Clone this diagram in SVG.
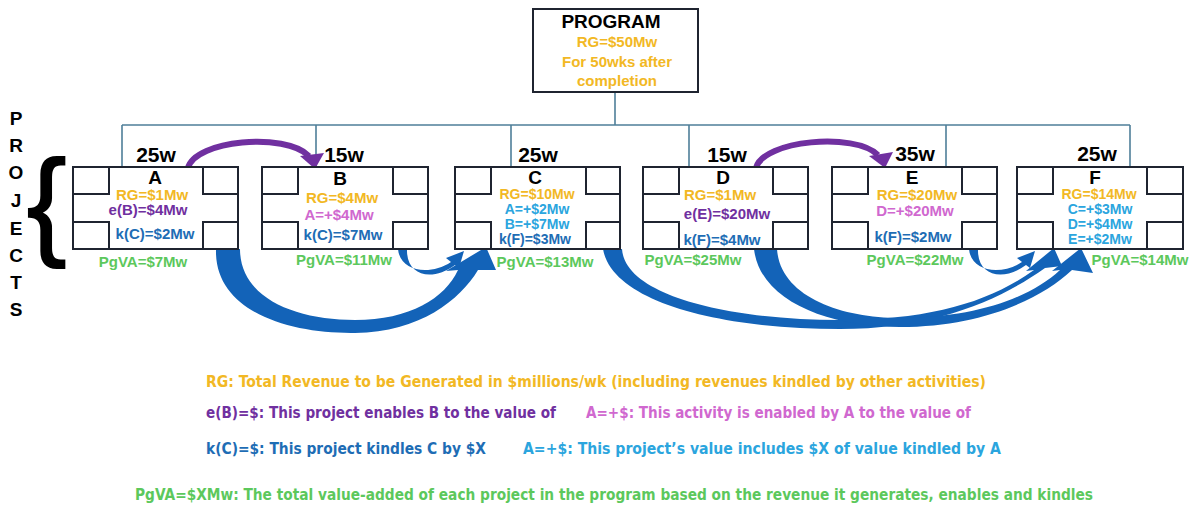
<svg xmlns="http://www.w3.org/2000/svg" width="1199" height="508" viewBox="0 0 1199 508">
<defs>
<style>
.bg{fill:#fff}
.box{fill:#fff;stroke:#1f2430;stroke-width:2}
.sq{fill:#fff;stroke:#1f2430;stroke-width:2}
.t{font-family:"Liberation Sans",Arial,sans-serif;font-weight:bold;text-anchor:middle;font-size:15px}
.s{font-size:14px}
.h{font-size:19px;fill:#000}
.wk{font-size:21px;fill:#000}
.rg{fill:#F2B824}
.en{fill:#7030A0}
.kd{fill:#1E6DB5}
.pv{fill:#5CC85C}
.ed{fill:#D068CF}
.kb{fill:#2BA5DE}
.bus{fill:none;stroke:#4F7F99;stroke-width:1.6}
.blue{fill:#1363B8}
.purp{fill:none;stroke:#7030A0;stroke-width:6}
.purh{fill:#7030A0}
.lg{font-family:"DejaVu Sans Condensed","Liberation Sans",sans-serif;font-weight:bold;font-size:15px}
.side{font-family:"Liberation Sans",Arial,sans-serif;font-weight:bold;font-size:19px;text-anchor:middle;fill:#000}
</style>
</defs>
<rect class="bg" x="0" y="0" width="1199" height="508"/>

<g id="connectors">
<path class="bus" d="M615,92 V125 M122,125 H1130 M122,125 V167 M316,125 V167 M511,125 V167 M689,125 V167 M946,125 V167 M1130,125 V167"/>
<path class="purp" d="M188,168 C195,140 285,132 309,156"/>
<polygon class="purh" points="300,156 324,153 315,169"/>
<path class="purp" d="M756,168 C763,140 855,132 878,155"/>
<polygon class="purh" points="869,156 893,152 885,168"/>
<path class="blue" d="M216,249 C214,312 290,334 355,333 C420,332 460,300 478,270 L496,270 L486,247 L446,271 L458,270 C445,298 410,320 355,320 C295,320 240,298 240,249 Z"/>
<path class="blue" d="M398,249 C400,272 430,276 451,262 L446,258 L464,251 L459,268 L455,265 C432,282 406,276 407,249 Z"/>
<path class="blue" d="M969,249 C971,272 1001,276 1022,262 L1017,258 L1035,251 L1030,268 L1026,265 C1003,282 977,276 978,249 Z"/>
<path class="blue" d="M603,249 C612,302 720,329 840,329 C935,329 1000,300 1045,268 L1062,266 L1054,248 L1026,271 L1034,270 C990,302 930,320 840,320 C730,320 625,296 622,249 Z"/>
<path class="blue" d="M754,249 C760,302 830,327 900,327 C980,327 1040,300 1072,270 L1093,273 L1081,248 L1052,271 L1060,270 C1030,298 975,318 900,318 C840,318 780,296 777,249 Z"/>
</g>

<g id="node-program">
<rect class="box" x="533" y="9" width="165" height="83"/>
<text class="t h" x="611" y="28">PROGRAM</text>
<text class="t rg" x="617" y="47" font-size="16">RG=$50Mw</text>
<text class="t rg" x="617" y="67" font-size="16">For 50wks after</text>
<text class="t rg" x="617" y="86" font-size="16">completion</text>
</g>

<g id="label-projects">
<text class="side" x="16" y="125">P</text>
<text class="side" x="16" y="152">R</text>
<text class="side" x="16" y="179">O</text>
<text class="side" x="16" y="207">J</text>
<text class="side" x="16" y="235">E</text>
<text class="side" x="16" y="262">C</text>
<text class="side" x="16" y="289">T</text>
<text class="side" x="16" y="316">S</text>
<text x="27" y="243" font-family="Liberation Sans,Arial,sans-serif" font-size="118" fill="#000" stroke="#000" stroke-width="2">{</text>
</g>

<g id="node-A">
<rect class="box" x="73" y="167" width="165" height="82"/>
<rect class="sq" x="73" y="167" width="36" height="27"/>
<rect class="sq" x="203" y="167" width="35" height="27"/>
<rect class="sq" x="73" y="222" width="36" height="27"/>
<rect class="sq" x="203" y="222" width="35" height="27"/>
<text class="t wk" x="156" y="162">25w</text>
<text class="t h" x="155" y="184">A</text>
<text class="t rg" x="152" y="200">RG=$1Mw</text>
<text class="t en" x="148" y="215">e(B)=$4Mw</text>
<text class="t kd" x="155" y="239">k(C)=$2Mw</text>
<text class="t pv" x="143" y="267">PgVA=$7Mw</text>
</g>

<g id="node-B">
<rect class="box" x="262" y="167" width="166" height="82"/>
<rect class="sq" x="262" y="167" width="36" height="27"/>
<rect class="sq" x="393" y="167" width="35" height="27"/>
<rect class="sq" x="262" y="222" width="36" height="27"/>
<rect class="sq" x="393" y="222" width="35" height="27"/>
<text class="t wk" x="344" y="162">15w</text>
<text class="t h" x="340" y="185">B</text>
<text class="t rg" x="342" y="203">RG=$4Mw</text>
<text class="t ed" x="339" y="220">A=+$4Mw</text>
<text class="t kd" x="343" y="240">k(C)=$7Mw</text>
<text class="t pv" x="344" y="265">PgVA=$11Mw</text>
</g>

<g id="node-C">
<rect class="box" x="455" y="167" width="165" height="82"/>
<rect class="sq" x="455" y="167" width="36" height="27"/>
<rect class="sq" x="586" y="167" width="34" height="27"/>
<rect class="sq" x="455" y="222" width="36" height="27"/>
<rect class="sq" x="586" y="222" width="34" height="27"/>
<text class="t wk" x="538" y="162">25w</text>
<text class="t h" x="535" y="184">C</text>
<text class="t s rg" x="537" y="199">RG=$10Mw</text>
<text class="t s kb" x="537" y="214">A=+$2Mw</text>
<text class="t s kb" x="537" y="229">B=+$7Mw</text>
<text class="t s kd" x="535" y="244">k(F)=$3Mw</text>
<text class="t pv" x="545" y="267">PgVA=$13Mw</text>
</g>

<g id="node-D">
<rect class="box" x="643" y="167" width="165" height="82"/>
<rect class="sq" x="643" y="167" width="36" height="27"/>
<rect class="sq" x="773" y="167" width="35" height="27"/>
<rect class="sq" x="643" y="222" width="36" height="27"/>
<rect class="sq" x="773" y="222" width="35" height="27"/>
<text class="t wk" x="727" y="162">15w</text>
<text class="t h" x="723" y="184">D</text>
<text class="t rg" x="720" y="200">RG=$1Mw</text>
<text class="t en" x="727" y="219">e(E)=$20Mw</text>
<text class="t kd" x="722" y="245">k(F)=$4Mw</text>
<text class="t pv" x="693" y="265">PgVA=$25Mw</text>
</g>

<g id="node-E">
<rect class="box" x="832" y="167" width="165" height="82"/>
<rect class="sq" x="832" y="167" width="36" height="27"/>
<rect class="sq" x="962" y="167" width="35" height="27"/>
<rect class="sq" x="832" y="222" width="36" height="27"/>
<rect class="sq" x="962" y="222" width="35" height="27"/>
<text class="t wk" x="915" y="161">35w</text>
<text class="t h" x="912" y="184">E</text>
<text class="t rg" x="917" y="200">RG=$20Mw</text>
<text class="t ed" x="915" y="216">D=+$20Mw</text>
<text class="t kd" x="913" y="242">k(F)=$2Mw</text>
<text class="t pv" x="915" y="265">PgVA=$22Mw</text>
</g>

<g id="node-F">
<rect class="box" x="1017" y="167" width="166" height="82"/>
<rect class="sq" x="1017" y="167" width="36" height="27"/>
<rect class="sq" x="1147" y="167" width="36" height="27"/>
<rect class="sq" x="1017" y="222" width="36" height="27"/>
<rect class="sq" x="1147" y="222" width="36" height="27"/>
<text class="t wk" x="1097" y="161">25w</text>
<text class="t h" x="1095" y="184">F</text>
<text class="t s rg" x="1099" y="199">RG=$14Mw</text>
<text class="t s kb" x="1100" y="214">C=+$3Mw</text>
<text class="t s kb" x="1100" y="229">D=+$4Mw</text>
<text class="t s kb" x="1100" y="244">E=+$2Mw</text>
<text class="t pv" x="1140" y="265">PgVA=$14Mw</text>
</g>

<g id="legend">
<text class="lg rg" x="206" y="387" textLength="780" lengthAdjust="spacingAndGlyphs">RG: Total Revenue to be Generated in $millions/wk (including revenues kindled by other activities)</text>
<text class="lg en" x="206" y="418" textLength="350" lengthAdjust="spacingAndGlyphs">e(B)=$: This project enables B to the value of</text>
<text class="lg ed" x="586" y="418" textLength="385" lengthAdjust="spacingAndGlyphs">A=+$: This activity is enabled by A to the value of</text>
<text class="lg kd" x="206" y="454" textLength="280" lengthAdjust="spacingAndGlyphs">k(C)=$: This project kindles C by $X</text>
<text class="lg kb" x="523" y="454" textLength="478" lengthAdjust="spacingAndGlyphs">A=+$: This project’s value includes $X of value kindled by A</text>
<text class="lg pv" x="135" y="500" textLength="958" lengthAdjust="spacingAndGlyphs">PgVA=$XMw: The total value-added of each project in the program based on the revenue it generates, enables and kindles</text>
</g>
</svg>
